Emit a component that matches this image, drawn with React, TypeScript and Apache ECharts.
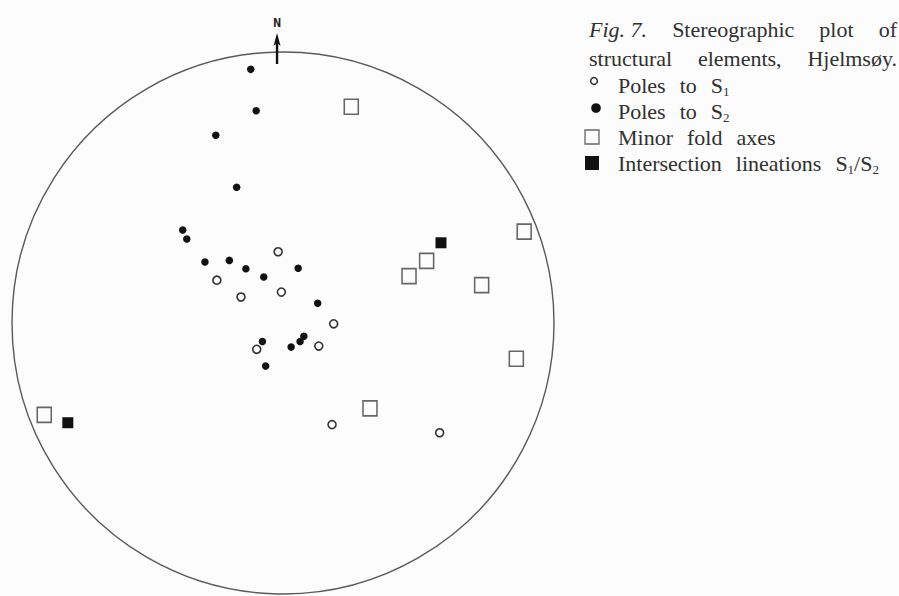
import React, { useEffect, useRef } from "react";
import * as echarts from "echarts";

// Projection coordinates (unit circle = primitive of the stereonet)
const polesS1: [number, number][] = [
  [-0.018, 0.263], [-0.244, 0.158], [-0.155, 0.096], [-0.006, 0.114],
  [0.187, -0.003], [-0.097, -0.097], [0.132, -0.085], [0.181, -0.375],
  [0.578, -0.405],
];
const polesS2: [number, number][] = [
  [-0.119, 0.936], [-0.099, 0.783], [-0.248, 0.693], [-0.171, 0.501],
  [-0.37, 0.343], [-0.355, 0.31], [-0.288, 0.225], [-0.198, 0.231],
  [-0.137, 0.2], [-0.071, 0.17], [0.056, 0.202], [0.128, 0.073],
  [-0.076, -0.068], [0.077, -0.049], [0.063, -0.068], [0.03, -0.089],
  [-0.064, -0.159],
];
const minorFoldAxes: [number, number][] = [
  [0.252, 0.798], [0.89, 0.337], [0.53, 0.229], [0.465, 0.173],
  [0.733, 0.14], [0.861, -0.132], [0.321, -0.315], [-0.881, -0.339],
];
const intersectionLineations: [number, number][] = [
  [0.583, 0.296], [-0.794, -0.368],
];
const northMarker: [number, number][] = [[-0.022, 1.013]];

const titleLine1 = ["{it|Fig. 7.}", "Stereographic", "plot", "of"];
const titleLine2 = ["structural", "elements,", "Hjelmsøy."];
const legendLines = [
  ["Poles", "to", "S{sub|1}"],
  ["Poles", "to", "S{sub|2}"],
  ["Minor", "fold", "axes"],
  ["Intersection", "lineations", "S{sub|1}/S{sub|2}"],
];

const FONT = '"Liberation Serif", "DejaVu Serif", serif';
const FS = 22;
const SUBFS = 13;
const TXT = "#303030";

const ctx = document.createElement("canvas").getContext("2d")!;
function w(t: string, size: number, italic = false) {
  ctx.font = `${italic ? "italic " : ""}${size}px ${FONT}`;
  return ctx.measureText(t).width;
}
function measureRich(word: string) {
  let total = 0;
  const re = /\{(sub|it)\|([^}]*)\}/g;
  let last = 0;
  let m: RegExpExecArray | null;
  while ((m = re.exec(word))) {
    total += w(word.slice(last, m.index), FS);
    total += m[1] === "sub" ? w(m[2], SUBFS) : w(m[2], FS, true);
    last = m.index + m[0].length;
  }
  total += w(word.slice(last), FS);
  return total;
}

const rich = {
  sub: { fontSize: SUBFS, lineHeight: 9, verticalAlign: "bottom", fontFamily: FONT, color: TXT },
  it: { fontSize: FS, fontStyle: "italic", fontFamily: FONT, color: TXT, lineHeight: 26 },
};

function layoutLine(words: string[], x0: number, y: number, gap: number | null, R: number) {
  const widths = words.map(measureRich);
  const total = widths.reduce((a, b) => a + b, 0);
  const g = gap === null ? (R - x0 - total) / (words.length - 1) : gap;
  let x = x0;
  return words.map((t, i) => {
    const el = {
      type: "text",
      x,
      y,
      style: {
        text: t,
        fill: TXT,
        fontSize: FS,
        fontFamily: FONT,
        lineHeight: 26,
        textVerticalAlign: "middle",
        textAlign: "left",
        rich,
      },
    };
    x += widths[i] + g;
    return el;
  });
}

export default function App() {
  const ref = useRef<HTMLDivElement>(null);
  useEffect(() => {
    const chart = echarts.init(ref.current!, null, { renderer: "svg" });
    const L = 589;
    const R = 897;
    const rows = [29, 58, 85, 111, 137, 163];
    const textX = L + 29;
    const graphic = [
      ...layoutLine(titleLine1, L, rows[0], null, R),
      ...layoutLine(titleLine2, L, rows[1], null, R),
      ...legendLines.flatMap((line, i) => layoutLine(line, textX, rows[i + 2], 14, R)),
      { type: "circle", shape: { cx: L + 5, cy: rows[2] - 4, r: 3.4 }, style: { fill: "none", stroke: "#333", lineWidth: 1.5 } },
      { type: "circle", shape: { cx: L + 7, cy: rows[3] - 3, r: 4.8 }, style: { fill: "#111" } },
      { type: "rect", shape: { x: L - 4, y: rows[4] - 7, width: 14, height: 14 }, style: { fill: "none", stroke: "#666", lineWidth: 1.3 } },
      { type: "rect", shape: { x: L - 4, y: rows[5] - 7, width: 14, height: 14 }, style: { fill: "#111" } },
    ];

    chart.setOption({
      animation: false,
      backgroundColor: "#fcfcfc",
      grid: { left: 12, top: 52, width: 542, height: 542 },
      xAxis: { type: "value", min: -1, max: 1, show: false },
      yAxis: { type: "value", min: -1, max: 1, show: false },
      polar: { center: [283, 323], radius: 271 },
      angleAxis: {
        type: "value",
        min: 0,
        max: 360,
        startAngle: 90,
        axisLine: { show: true, lineStyle: { color: "#5a5a5a", width: 1.4 } },
        axisTick: { show: false },
        axisLabel: { show: false },
        splitLine: { show: false },
      },
      radiusAxis: { type: "value", min: 0, max: 1, show: false },
      graphic,
      series: [
        { type: "scatter", coordinateSystem: "polar", data: [], silent: true },
        {
          name: "Minor fold axes",
          type: "scatter",
          data: minorFoldAxes,
          symbol: "rect",
          symbolSize: [14, 15],
          itemStyle: { color: "rgba(0,0,0,0)", borderColor: "#666", borderWidth: 1.6, opacity: 1 },
        },
        {
          name: "Intersection lineations S1/S2",
          type: "scatter",
          data: intersectionLineations,
          symbol: "rect",
          symbolSize: 11,
          itemStyle: { color: "#111", opacity: 1 },
        },
        {
          name: "Poles to S1",
          type: "scatter",
          data: polesS1,
          symbol: "circle",
          symbolSize: 8,
          itemStyle: { color: "#fcfcfc", borderColor: "#333", borderWidth: 1.6, opacity: 1 },
        },
        {
          name: "Poles to S2",
          type: "scatter",
          data: polesS2,
          symbol: "circle",
          symbolSize: 7.5,
          itemStyle: { color: "#111", opacity: 1 },
        },
        {
          name: "N",
          type: "scatter",
          clip: false,
          data: northMarker,
          symbol: "path://M3,0 L6.5,13 L4.2,11 L4.2,31 L1.8,31 L1.8,11 L-0.5,13 Z",
          symbolSize: [7, 31],
          itemStyle: { color: "#111", opacity: 1 },
          label: {
            show: true,
            position: "top",
            distance: 4,
            formatter: "N",
            fontSize: 13,
            fontWeight: "bold",
            fontFamily: '"DejaVu Sans Mono", "Liberation Mono", monospace',
            color: "#222",
          },
        },
      ],
    });
    return () => chart.dispose();
  }, []);
  return (
    <div
      ref={ref}
      style={{ position: "fixed", left: 0, top: 0, width: 899, height: 596 }}
    />
  );
}
